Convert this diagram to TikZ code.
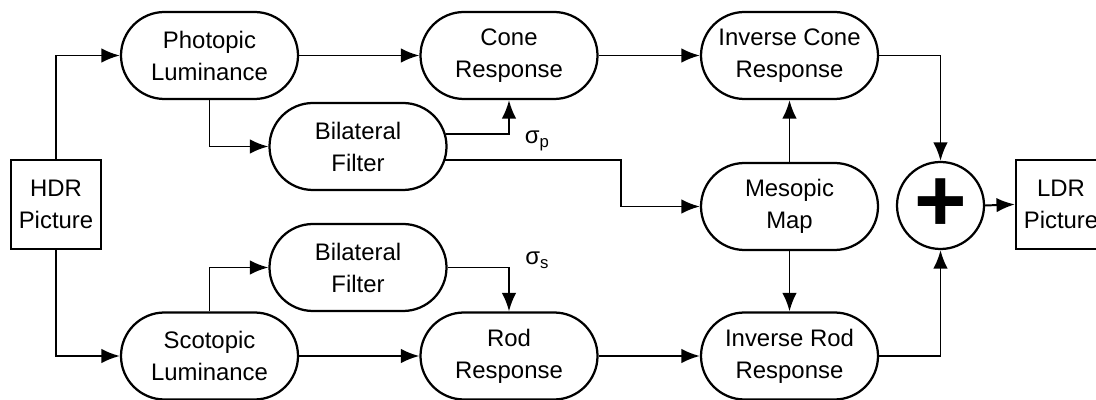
\documentclass[tikz,border=0pt]{standalone}
\usepackage{fontspec}
\setmainfont{Liberation Sans}
\usetikzlibrary{shapes.misc,arrows.meta}

\begin{document}
\begin{tikzpicture}[
  blk/.style={rounded rectangle, draw=black, line width=1.6pt, minimum width=4.425cm,
    minimum height=2.175cm, inner sep=0pt, align=center, font=\fontsize{17}{22.8}\selectfont},
  pic/.style={rectangle, draw=black, line width=1.6pt, minimum width=2.25cm,
    minimum height=2.225cm, inner sep=0pt, align=center, font=\fontsize{17}{22.8}\selectfont},
  sig/.style={font=\fontsize{17}{20}\selectfont},
  con/.style={line width=1.4pt, -{Latex[length=4.6mm,width=3.6mm]}}
]
\useasboundingbox (0,0) rectangle (27.4,-10);
\node[pic] (hdr) at (1.4,-5.11) {HDR\\Picture};
\node[pic] (ldr) at (26.525,-5.11) {LDR\\Picture};
\node[blk] (photo) at (5.2375,-1.3875) {Photopic\\Luminance};
\node[blk] (cone) at (12.725,-1.3875) {Cone\\Response};
\node[blk] (icone) at (19.7375,-1.3875) {Inverse Cone\\Response};
\node[blk] (bilt) at (8.95,-3.6625) {Bilateral\\Filter};
\node[blk] (meso) at (19.7375,-5.1625) {Mesopic\\Map};
\node[blk] (bilb) at (8.95,-6.6875) {Bilateral\\Filter};
\node[blk] (scot) at (5.2375,-8.9) {Scotopic\\Luminance};
\node[blk] (rod) at (12.725,-8.9) {Rod\\Response};
\node[blk] (irod) at (19.7375,-8.9) {Inverse Rod\\Response};
\node[circle, draw=black, line width=1.6pt, minimum size=2.175cm, inner sep=0pt,
  font=\fontsize{64}{64}\bfseries\selectfont] (plus) at (23.5125,-5.1375) {+};
\node[sig] (sigp) at (13.43,-3.52) {σ\textsubscript{p}};
\node[sig] (sigs) at (13.43,-6.5) {σ\textsubscript{s}};

\draw[con] (hdr.north) |- (photo.west);
\draw[con] (hdr.south) |- (scot.west);
\draw[con] (photo.south) |- (bilt.west);
\draw[con] (scot.north) |- (bilb.west);
\draw[con] (photo.east) -- (cone.west);
\draw[con] (scot.east) -- (rod.west);
\draw[con] (bilt.8.8) -| (cone.south);
\draw[con] (bilt.-9.5) -| ([xshift=-1.975cm]meso.west) -- (meso.west);
\draw[con] (bilb.east) -| (rod.north);
\draw[con] (cone.east) -- (icone.west);
\draw[con] (rod.east) -- (irod.west);
\draw[con] (meso.north) -- (icone.south);
\draw[con] (meso.south) -- (irod.north);
\draw[con] (icone.east) -| (plus.north);
\draw[con] (irod.east) -| (plus.south);
\draw[con] (plus.east) -- (ldr.west);
\end{tikzpicture}
\end{document}
